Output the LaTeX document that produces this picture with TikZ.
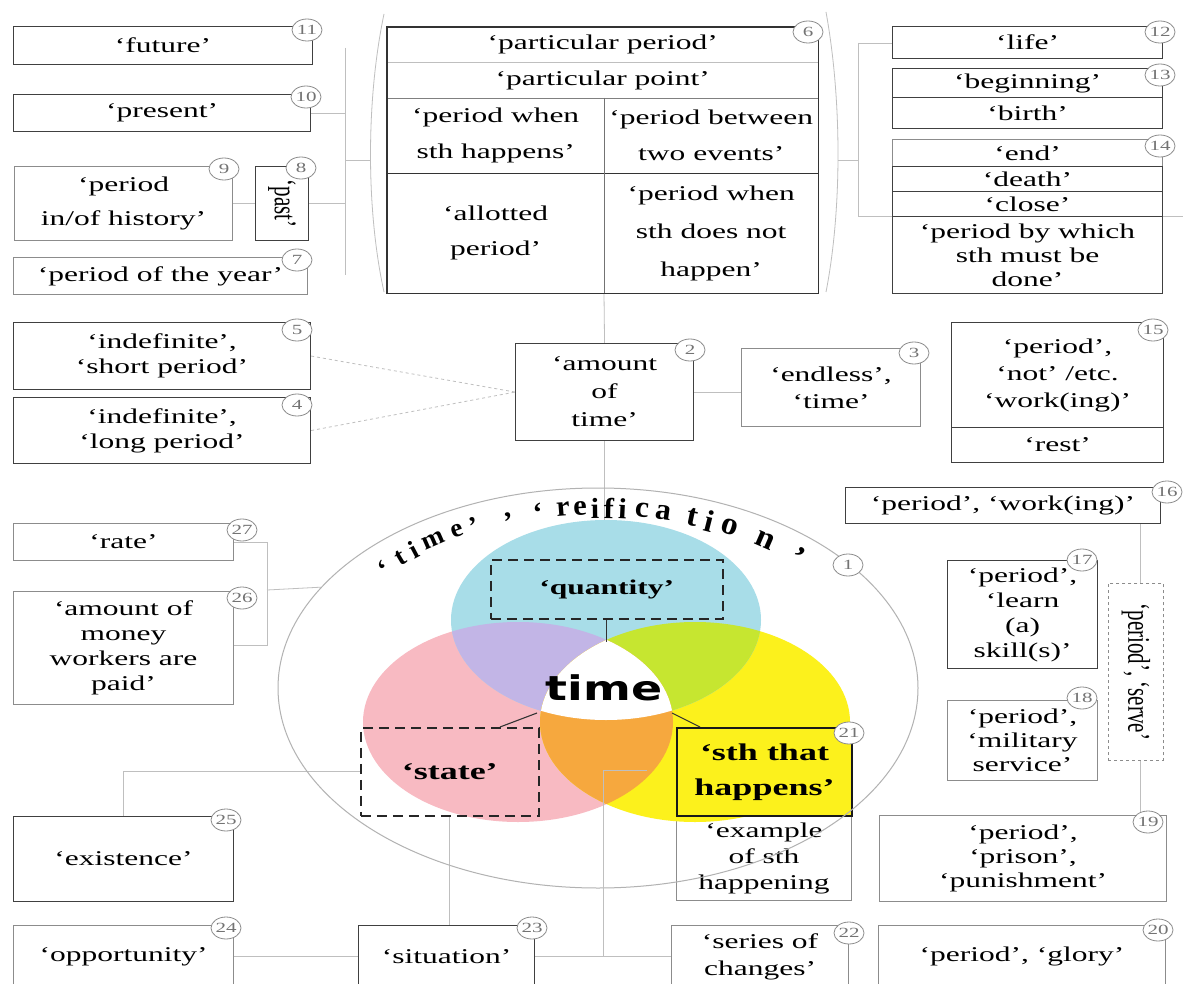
\documentclass[tikz,border=0pt]{standalone}
\usepackage{fontspec}
\usepackage{graphicx}
\setmainfont{Liberation Serif}[FakeStretch=1.5]
\newfontfamily\plainserif{Liberation Serif}
\newfontfamily\arcfont{Liberation Serif}[FakeStretch=1.05]
\newfontfamily\timefont{DejaVu Sans}[FakeStretch=1.35]
\usetikzlibrary{shapes.geometric,calc}
\pgfdeclarelayer{back}
\pgfsetlayers{back,main}
\definecolor{vpink}{RGB}{248,186,194}
\definecolor{vyellow}{RGB}{252,241,28}
\definecolor{vblue}{RGB}{168,221,232}
\definecolor{vpurple}{RGB}{194,181,230}
\definecolor{vgreen}{RGB}{198,230,48}
\definecolor{vorange}{RGB}{246,168,62}
\tikzset{
  box/.style={draw=black!75, line width=1.1pt, fill=white, inner sep=1pt, align=center,
    anchor=north west, font=\fontsize{21}{26}\selectfont},
  lbox/.style={box, draw=black!45},
  cell/.style={inner sep=1pt, align=center, anchor=north west, font=\fontsize{21}{36}\selectfont},
  badge/.style={ellipse, draw=black!45, fill=white, line width=0.8pt, minimum width=30pt,
    minimum height=22pt, inner sep=0pt, font=\fontsize{14}{14}\selectfont, text=black!55},
  conn/.style={draw=black!25, line width=0.8pt},
  vdash/.style={draw=black!85, line width=1.5pt, dash pattern=on 10pt off 6pt, inner sep=1pt,
    align=center, anchor=north west},
  cline/.style={draw=black!80, line width=1.1pt},
  venn/.style={x radius=155, y radius=100},
}
\newcommand\boxat[7]{\node[#1, minimum width={(#5-#3)*1pt}, minimum height={(#6-#4)*1pt}] (#2) at (#3,#4) {#7};}
\begin{document}
\begin{tikzpicture}[x=1pt,y=-1pt]
\begin{pgfonlayer}{back}
\fill[white] (0,0) rectangle (1183,984);
\end{pgfonlayer}
\useasboundingbox (0,0) rectangle (1183,984);

% ---------- left column
\boxat{box}{b11}{13}{26}{312}{64}{‘future’}
\boxat{box}{b10}{13}{94}{310}{131}{‘present’}
\boxat{lbox, font=\fontsize{21}{34}\selectfont}{b9}{14}{166}{232}{240}{‘period\\in/of history’}
\boxat{box}{b8}{255}{166}{308}{240}{\scalebox{1.5}[1]{\rotatebox{-90}{\plainserif\fontsize{21}{21}\selectfont ‘past’}}}
\boxat{lbox}{b7}{13}{257}{307}{294}{‘period of the year’}

% ---------- table 6
\boxat{cell}{t1}{387}{27}{818}{62}{‘particular period’}
\boxat{cell}{t2}{387}{62}{818}{98}{‘particular point’}
\boxat{cell}{t3}{387}{98}{604}{173}{‘period when\\sth happens’}
\boxat{cell}{t4}{604}{98}{818}{173}{‘period between\\two events’}
\boxat{cell, font=\fontsize{21}{35}\selectfont}{t5}{387}{173}{604}{293}{‘allotted\\period’}
\boxat{cell, font=\fontsize{21}{38}\selectfont}{t6}{604}{173}{818}{293}{‘period when\\sth does not\\happen’}
\draw[black!25, line width=0.8pt] (t1.south west) -- (t1.south east);
\draw[black!50, line width=1pt] (t2.south west) -- (t2.south east);
\draw[black!80, line width=1.2pt] (t3.south west) -- (t4.south east);
\draw[black!55, line width=1pt] (t3.north east) -- (t5.south east);
\draw[black!80, line width=1.3pt] (t1.north west) rectangle (t6.south east);

% ---------- right column
\boxat{box}{b12}{892}{26}{1162}{58}{‘life’}
\boxat{box}{b13a}{892}{68}{1162}{97}{‘beginning’}
\boxat{box}{b13b}{892}{97}{1162}{128}{‘birth’}
\boxat{lbox}{b14a}{892}{139}{1162}{166}{‘end’}
\boxat{box}{b14b}{892}{166}{1162}{191}{‘death’}
\boxat{box}{b14c}{892}{191}{1162}{216}{‘close’}
\boxat{box, font=\fontsize{21}{24}\selectfont}{b14d}{892}{216}{1162}{293}{‘period by which\\sth must be\\done’}

% ---------- middle row
\boxat{box, font=\fontsize{21}{25}\selectfont}{b5}{13}{322}{310}{389}{‘indefinite’,\\‘short period’}
\boxat{box, font=\fontsize{21}{25}\selectfont}{b4}{13}{397}{310}{463}{‘indefinite’,\\‘long period’}
\boxat{box, font=\fontsize{21}{28}\selectfont}{b2}{515}{343}{693}{440}{‘amount\\of\\time’}
\boxat{lbox, font=\fontsize{21}{27}\selectfont}{b3}{741}{348}{920}{426}{‘endless’,\\‘time’}
\boxat{box, font=\fontsize{21}{27}\selectfont}{b15a}{951}{322}{1163}{427}{‘period’,\\‘not’ /etc.\\‘work(ing)’}
\boxat{box}{b15b}{951}{427}{1163}{462}{‘rest’}
\boxat{box}{b16}{845}{487}{1160}{523}{‘period’, ‘work(ing)’}

% ---------- lower left / right
\boxat{lbox}{b27}{13}{523}{233}{560}{‘rate’}
\boxat{lbox, font=\fontsize{21}{25}\selectfont}{b26}{13}{591}{233}{704}{‘amount of\\money\\workers are\\paid’}
\boxat{box, font=\fontsize{21}{25}\selectfont}{b17}{947}{560}{1097}{668}{‘period’,\\‘learn\\(a)\\skill(s)’}
\boxat{lbox, font=\fontsize{21}{24}\selectfont}{b18}{947}{700}{1097}{780}{‘period’,\\‘military\\service’}
\boxat{lbox, dashed, line width=0.8pt}{bserve}{1108}{583}{1163}{760}{\scalebox{1.5}[1]{\rotatebox{-90}{\plainserif\fontsize{21}{21}\selectfont ‘period’, ‘serve’}}}
\boxat{box}{b25}{13}{816}{233}{901}{‘existence’}
\boxat{lbox, font=\fontsize{21}{24}\selectfont}{b19}{879}{815}{1166}{901}{‘period’,\\‘prison’,\\‘punishment’}
\boxat{lbox, font=\fontsize{21}{26}\selectfont}{bex}{676}{815}{851}{900}{‘example\\of sth\\happening}

% ---------- bottom row
\boxat{lbox}{b24}{13}{925}{233}{987}{‘opportunity’}
\boxat{box}{b23}{358}{925}{534}{987}{‘situation’}
\boxat{lbox, font=\fontsize{21}{27}\selectfont}{b22}{671}{925}{848}{987}{‘series of\\changes’}
\boxat{lbox}{b20}{878}{925}{1165}{987}{‘period’, ‘glory’}

% ---------- Venn diagram
\fill[vpink] (518,722) ellipse [venn];
\fill[vyellow] (695,722) ellipse [venn];
\fill[vblue] (606,620) ellipse [venn];
\begin{scope}
  \clip (518,722) ellipse [venn];
  \fill[vpurple] (606,620) ellipse [venn];
\end{scope}
\begin{scope}
  \clip (695,722) ellipse [venn];
  \fill[vgreen] (606,620) ellipse [venn];
\end{scope}
\begin{scope}
  \clip (518,722) ellipse [venn];
  \fill[vorange] (695,722) ellipse [venn];
\end{scope}
\begin{scope}
  \clip (518,722) ellipse [venn];
  \clip (695,722) ellipse [venn];
  \fill[white] (606,620) ellipse [venn];
\end{scope}

\boxat{vdash, font=\bfseries\fontsize{21}{26}\selectfont}{bq}{490}{559}{722}{618}{‘quantity’}
\boxat{vdash, font=\bfseries\fontsize{24}{30}\selectfont}{bstate}{360}{727}{538}{815}{‘state’}
\boxat{box, draw=black!90, line width=2pt, fill=vyellow, font=\bfseries\fontsize{24}{35}\selectfont}{bsth}{676}{727}{851}{815}{‘sth that\\happens’}
\node[font=\timefont\bfseries\fontsize{34}{34}\selectfont, inner sep=0pt] (tm) at (604,688) {time};

% ---------- outer ellipse
\node[draw=black!30, line width=1pt, ellipse, minimum width=640pt, minimum height=400pt, inner sep=0pt] (outer) at (598,688) {};

% ---------- arc text
\foreach \cc/\ang/\sz [count=\i] in {‘/140.3/26, t/135.3/26, i/131.6/26, m/126.4/26, e/120.6/26, ’/116.8/26, {,}/109.2/28, ‘/102.8/28, r/97.6/29, e/94.1/29, i/91/29, f/88.2/29, i/85.4/29, c/81.4/30, a/77/30, t/70.8/31, i/66.9/31, o/62.3/32, n/53.9/32, ’/45/32}{
  \pgfmathsetmacro\rot{atan2(-167*cos(\ang),280*sin(\ang))}
  \node[rotate=\rot, inner sep=0pt, font={\arcfont\bfseries\fontsize{\sz}{\sz}\selectfont}] (arc\i) at ({600+280*cos(\ang)},{675-167*sin(\ang)}) {\cc};
}

% ---------- lines from the centre (on top)
\coordinate (cT) at (606,642);
\coordinate (cL) at (537,713);
\coordinate (stT) at (500,727);
\coordinate (cR) at (672,713);
\coordinate (shT) at (700,727);
\draw[cline] (bq.south) -- (bq.south |- cT);
\draw[cline] (stT) -- (cL);
\draw[cline] (cR) -- (shT);
\coordinate (orL) at (647,770);
\coordinate (jn) at ($(b23.east)!0.5!(b22.west)$);
\draw[conn] (orL) -| (jn);

% ---------- connectors (behind)
\begin{pgfonlayer}{back}
\draw[conn] (t6.south west) -- (b2.north);
\draw[conn] (b2.south) -- (b2.south |- bq.north);
\draw[conn] (b2.east) -- (b2.east -| b3.west);
\draw[conn, dashed] (b5.east) -- (b2.west);
\draw[conn, dashed] (b4.east) -- (b2.west);
% left bracket
\coordinate (lbT) at (345,48);
\coordinate (lbB) at (345,275);
\coordinate (lbM) at (345,160);
\coordinate (lpM) at (371,160);
\draw[conn] (lbT) -- (lbB);
\draw[conn] (b10.east) -- (b10.east -| lbT);
\draw[conn] (b9.east) -- (b8.west);
\draw[conn] (b8.east) -- (b8.east -| lbT);
\draw[conn] (lbM) -- (lpM);
\draw[conn] (384,14) .. controls (366,100) and (366,210) .. (384,292);
% right bracket
\draw[conn] (826,12) .. controls (842,100) and (842,210) .. (826,292);
\coordinate (rbT) at (858,43);
\coordinate (rbB) at (858,216);
\coordinate (rbM) at (858,160);
\coordinate (rpM) at (838,160);
\coordinate (edgeR) at (1183,216);
\draw[conn] (rbT) -- (rbB);
\draw[conn] (rbT) -- (rbT -| b12.west);
\draw[conn] (rbB) -- (rbB -| b14d.west);
\draw[conn] (rpM) -- (rbM);
\draw[conn] (b14d.north east) -- (edgeR);
% rate / amount of money
\coordinate (rbr2) at (267,645);
\coordinate (rbr3) at (267,590);
\draw[conn] (b27.east) -| (rbr2) -- (rbr2 -| b26.east);
\draw[conn] (rbr3) -- (outer.160.6);
% right vertical
\coordinate (r16) at (1140,523);
\draw[conn] (r16) -- (r16 |- b19.north);
% state
\draw[conn] (bstate.west) -| (b25.north);
\draw[conn] (bstate.south) -- (bstate.south |- b23.north);
% bottom row
\draw[conn] (b24.east) -- (b23.west);
\draw[conn] (b23.east) -- (b22.west);
\end{pgfonlayer}

% ---------- badges
\node[badge] (c11) at (307,30) {11};
\node[badge] (c10) at (306,97) {10};
\node[badge] (c9) at (224,169) {9};
\node[badge] (c8) at (301,168) {8};
\node[badge] (c7) at (297,260) {7};
\node[badge] (c6) at (808,32) {6};
\node[badge] (c12) at (1160,32) {12};
\node[badge] (c13) at (1160,75) {13};
\node[badge] (c14) at (1160,146) {14};
\node[badge] (c5) at (297,330) {5};
\node[badge] (c4) at (297,405) {4};
\node[badge] (c2) at (690,350) {2};
\node[badge] (c3) at (914,353) {3};
\node[badge] (c15) at (1153,330) {15};
\node[badge] (c16) at (1167,492) {16};
\node[badge] (c1) at (848,565) {1};
\node[badge] (c27) at (242,530) {27};
\node[badge] (c26) at (242,598) {26};
\node[badge] (c17) at (1082,560) {17};
\node[badge] (c18) at (1082,698) {18};
\node[badge] (c21) at (849,733) {21};
\node[badge] (c25) at (226,820) {25};
\node[badge] (c19) at (1148,822) {19};
\node[badge] (c24) at (226,928) {24};
\node[badge] (c23) at (532,928) {23};
\node[badge] (c22) at (849,933) {22};
\node[badge] (c20) at (1158,930) {20};
\end{tikzpicture}
\end{document}
